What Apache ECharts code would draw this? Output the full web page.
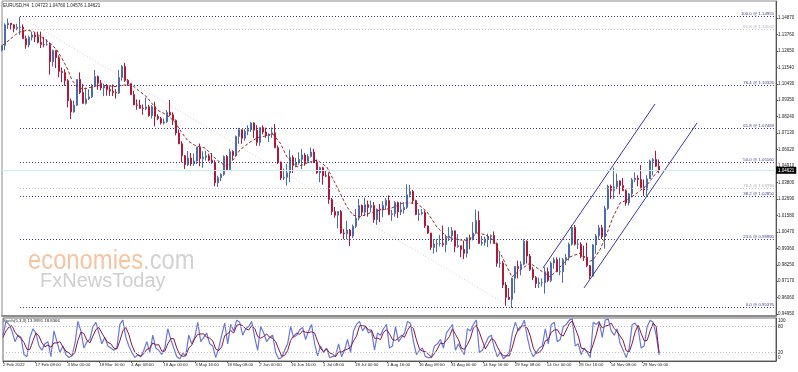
<!DOCTYPE html>
<html><head><meta charset="utf-8">
<script src="https://cdn.jsdelivr.net/npm/echarts/dist/echarts.min.js"></script>
<style>html,body{margin:0;padding:0;background:#fff}#c{width:798px;height:372px}</style>
</head><body><div id="c"></div>
<script>
// ---------- data ----------
const symbolName = 'EURUSD,H4';
const lastBar = [1.04723, 1.04760, 1.04576, 1.04621]; // O H L C of last H4 bar
// daily [open, high, low, close], trading days from 2 Feb 2022
const dailyOHLC = [
[1.1270,1.1306,1.1263,1.1302],[1.1302,1.1451,1.1270,1.1440],[1.1440,1.1483,1.1413,1.1452],
[1.1452,1.1453,1.1409,1.1441],[1.1441,1.1446,1.1390,1.1416],[1.1416,1.1448,1.1404,1.1423],[1.1423,1.1495,1.1373,1.1426],[1.1426,1.1444,1.1348,1.1348],
[1.1348,1.1369,1.1280,1.1306],[1.1306,1.1369,1.1290,1.1357],[1.1357,1.1395,1.1336,1.1373],[1.1373,1.1389,1.1325,1.1361],[1.1361,1.1395,1.1316,1.1323],
[1.1323,1.1395,1.1285,1.1309],[1.1309,1.1360,1.1290,1.1308],[1.1308,1.1344,1.1300,1.1308],[1.1308,1.1322,1.1106,1.1193],[1.1193,1.1274,1.1160,1.1268],
[1.1268,1.1270,1.1150,1.1220],[1.1220,1.1236,1.1088,1.1127],[1.1127,1.1154,1.1055,1.1120],[1.1120,1.1142,1.1030,1.1065],[1.1065,1.1075,1.0885,1.0930],
[1.0930,1.0945,1.0806,1.0855],[1.0855,1.0930,1.0850,1.0900],[1.0900,1.1075,1.0896,1.1074],[1.1074,1.1121,1.0975,1.0985],[1.0985,1.1044,1.0910,1.0912],
[1.0912,1.1018,1.0905,1.0942],[1.0942,1.1007,1.0935,1.0956],[1.0956,1.1043,1.0948,1.1031],[1.1031,1.1137,1.1021,1.1093],[1.1093,1.1100,1.1004,1.1048],
[1.1048,1.1070,1.1000,1.1016],[1.1016,1.1046,1.0961,1.1030],[1.1030,1.1043,1.0964,1.1005],[1.1005,1.1025,1.0962,1.0995],[1.0995,1.1040,1.0962,1.0985],
[1.0985,1.1009,1.0945,1.0982],[1.0982,1.1137,1.0975,1.1087],[1.1087,1.1170,1.1065,1.1160],[1.1160,1.1185,1.1056,1.1067],[1.1067,1.1076,1.1030,1.1045],
[1.1045,1.1048,1.0968,1.0972],[1.0972,1.0998,1.0901,1.0902],[1.0902,1.0939,1.0870,1.0900],[1.0900,1.0937,1.0874,1.0880],[1.0880,1.0905,1.0836,1.0877],
[1.0877,1.0952,1.0865,1.0889],[1.0889,1.0903,1.0822,1.0830],[1.0830,1.0901,1.0810,1.0890],[1.0890,1.0923,1.0758,1.0825],[1.0825,1.0838,1.0800,1.0810],
[1.0810,1.0822,1.0770,1.0780],[1.0780,1.0810,1.0770,1.0788],[1.0788,1.0868,1.0780,1.0852],[1.0852,1.0936,1.0825,1.0835],[1.0835,1.0852,1.0767,1.0797],
[1.0797,1.0805,1.0697,1.0713],[1.0713,1.0737,1.0638,1.0640],[1.0640,1.0658,1.0515,1.0560],[1.0560,1.0565,1.0471,1.0500],[1.0500,1.0592,1.0490,1.0545],
[1.0545,1.0578,1.0490,1.0505],[1.0505,1.0576,1.0492,1.0524],[1.0524,1.0620,1.0505,1.0618],[1.0618,1.0642,1.0490,1.0540],[1.0540,1.0590,1.0480,1.0550],
[1.0550,1.0594,1.0528,1.0560],[1.0560,1.0574,1.0522,1.0530],[1.0530,1.0578,1.0505,1.0515],[1.0515,1.0530,1.0354,1.0378],[1.0378,1.0425,1.0350,1.0412],
[1.0412,1.0442,1.0389,1.0435],[1.0435,1.0562,1.0425,1.0555],[1.0555,1.0565,1.0460,1.0465],[1.0465,1.0606,1.0460,1.0588],[1.0588,1.0597,1.0532,1.0562],
[1.0562,1.0696,1.0557,1.0690],[1.0690,1.0748,1.0640,1.0735],[1.0735,1.0737,1.0640,1.0678],[1.0678,1.0738,1.0660,1.0725],[1.0725,1.0765,1.0698,1.0735],
[1.0735,1.0787,1.0720,1.0780],[1.0780,1.0785,1.0680,1.0732],[1.0732,1.0765,1.0627,1.0650],[1.0650,1.0750,1.0627,1.0750],[1.0750,1.0765,1.0705,1.0720],
[1.0720,1.0749,1.0680,1.0695],[1.0695,1.0710,1.0653,1.0705],[1.0705,1.0750,1.0680,1.0715],[1.0715,1.0774,1.0610,1.0615],[1.0615,1.0630,1.0505,1.0518],
[1.0518,1.0520,1.0397,1.0410],[1.0410,1.0474,1.0397,1.0415],[1.0415,1.0506,1.0359,1.0445],[1.0445,1.0601,1.0382,1.0550],[1.0550,1.0564,1.0444,1.0495],
[1.0495,1.0546,1.0482,1.0512],[1.0512,1.0583,1.0500,1.0535],[1.0535,1.0605,1.0470,1.0565],[1.0565,1.0578,1.0492,1.0522],[1.0522,1.0571,1.0512,1.0555],
[1.0555,1.0615,1.0548,1.0585],[1.0585,1.0606,1.0510,1.0518],[1.0518,1.0533,1.0440,1.0444],[1.0444,1.0487,1.0382,1.0480],[1.0480,1.0486,1.0365,1.0425],
[1.0425,1.0463,1.0416,1.0423],[1.0423,1.0448,1.0236,1.0265],[1.0265,1.0276,1.0162,1.0184],[1.0184,1.0215,1.0143,1.0160],[1.0160,1.0186,1.0072,1.0185],
[1.0185,1.0195,1.0035,1.0040],[1.0040,1.0068,0.9998,1.0035],[1.0035,1.0122,0.9998,1.0060],[1.0060,1.0067,0.9952,1.0020],[1.0020,1.0097,1.0006,1.0085],
[1.0085,1.0201,1.0073,1.0140],[1.0140,1.0269,1.0124,1.0225],[1.0225,1.0232,1.0155,1.0180],[1.0180,1.0278,1.0154,1.0230],[1.0230,1.0258,1.0150,1.0212],
[1.0212,1.0258,1.0180,1.0225],[1.0225,1.0248,1.0110,1.0130],[1.0130,1.0205,1.0095,1.0200],[1.0200,1.0235,1.0113,1.0195],[1.0195,1.0255,1.0146,1.0225],
[1.0225,1.0275,1.0195,1.0260],[1.0260,1.0294,1.0160,1.0165],[1.0165,1.0196,1.0122,1.0170],[1.0170,1.0254,1.0150,1.0245],[1.0245,1.0252,1.0141,1.0182],
[1.0182,1.0250,1.0160,1.0196],[1.0196,1.0248,1.0170,1.0212],[1.0212,1.0368,1.0202,1.0297],[1.0297,1.0364,1.0280,1.0320],[1.0320,1.0330,1.0236,1.0258],
[1.0258,1.0264,1.0160,1.0165],[1.0165,1.0202,1.0122,1.0170],[1.0170,1.0202,1.0160,1.0178],[1.0178,1.0192,1.0074,1.0088],[1.0088,1.0090,1.0033,1.0040],
[1.0040,1.0040,0.9926,0.9943],[0.9943,0.9999,0.9901,0.9966],[0.9966,0.9999,0.9911,0.9968],[0.9968,1.0028,0.9949,0.9970],[0.9970,1.0090,0.9947,0.9962],
[0.9962,1.0030,0.9910,1.0010],[1.0010,1.0080,0.9986,1.0020],[1.0020,1.0080,0.9980,1.0055],[1.0055,1.0055,0.9911,0.9950],[0.9950,1.0033,0.9940,0.9955],
[0.9955,0.9955,0.9877,0.9930],[0.9930,0.9989,0.9864,0.9903],[0.9903,1.0011,0.9875,1.0008],[1.0008,1.0030,0.9930,1.0000],[1.0000,1.0113,0.9990,1.0040],
[1.0040,1.0198,1.0036,1.0125],[1.0125,1.0187,0.9966,0.9970],[0.9970,1.0020,0.9955,0.9977],[0.9977,1.0016,0.9956,0.9998],[0.9998,1.0036,0.9945,1.0016],
[1.0016,1.0030,0.9967,1.0024],[1.0024,1.0050,0.9970,0.9970],[0.9970,0.9976,0.9813,0.9836],[0.9836,0.9908,0.9807,0.9838],[0.9838,0.9852,0.9670,0.9690],
[0.9690,0.9710,0.9550,0.9607],[0.9607,0.9670,0.9590,0.9593],[0.9593,0.9740,0.9536,0.9735],[0.9735,0.9815,0.9635,0.9815],[0.9815,0.9853,0.9735,0.9800],
[0.9800,0.9850,0.9755,0.9830],[0.9830,0.9999,0.9823,0.9985],[0.9985,0.9990,0.9835,0.9885],[0.9885,0.9899,0.9785,0.9794],[0.9794,0.9810,0.9723,0.9740],
[0.9740,0.9750,0.9670,0.9700],[0.9700,0.9740,0.9670,0.9705],[0.9705,0.9735,0.9680,0.9705],[0.9705,0.9810,0.9632,0.9780],[0.9780,0.9808,0.9710,0.9720],
[0.9720,0.9850,0.9710,0.9838],[0.9838,0.9876,0.9800,0.9860],[0.9860,0.9875,0.9777,0.9779],[0.9779,0.9874,0.9755,0.9780],[0.9780,0.9872,0.9705,0.9860],
[0.9860,0.9900,0.9824,0.9875],[0.9875,0.9975,0.9855,0.9965],[0.9965,1.0093,0.9955,1.0078],[1.0078,1.0094,0.9955,0.9965],[0.9965,0.9999,0.9932,0.9965],
[0.9965,0.9978,0.9870,0.9882],[0.9882,0.9955,0.9852,0.9877],[0.9877,0.9975,0.9810,0.9820],[0.9820,0.9825,0.9730,0.9750],[0.9750,0.9965,0.9745,0.9960],
[0.9960,1.0033,0.9900,1.0020],[1.0020,1.0095,0.9994,1.0075],[1.0075,1.0094,1.0000,1.0014],[1.0014,1.0223,0.9935,1.0205],[1.0205,1.0365,1.0195,1.0355],
[1.0355,1.0365,1.0270,1.0325],[1.0325,1.0481,1.0270,1.0350],[1.0350,1.0440,1.0335,1.0390],[1.0390,1.0395,1.0300,1.0360],[1.0360,1.0410,1.0325,1.0325],
[1.0325,1.0334,1.0223,1.0242],[1.0242,1.0310,1.0226,1.0303],[1.0303,1.0410,1.0280,1.0398],[1.0398,1.0448,1.0382,1.0408],[1.0408,1.0429,1.0355,1.0400],
[1.0400,1.0497,1.0340,1.0345],[1.0345,1.0400,1.0290,1.0330],[1.0330,1.0429,1.0290,1.0405],[1.0405,1.0533,1.0405,1.0525],[1.0525,1.0545,1.0428,1.0535],
[1.0535,1.0594,1.0485,1.0490],[1.0490,1.0535,1.0443,1.04621]
];
// moving average: day position and value
const maDays = [0.8,3,5,6.5,9,11,13.5,16.5,18.8,20.8,22.5,23.8,25.5,27.5,29.2,31,33.2,36.5,38.5,40.5,43.8,46,48.8,52.2,55.5,58,60.5,62.5,64.8,68.2,72.2,75.5,77.5,79.8,83.2,85.5,88.2,90.8,93.2,95.5,98.8,102.2,105.5,108.8,109.8,113.2,115.5,117.5,119.8,123.2,126.5,130,134.2,138.8,142.2,145.5,148.8,153.2,156,158.8,161.5,164.2,167.2,170.5,173.2,176.5,179.8,183.2,186.5,189.8,193.2,195.8,197.5,199.8,202.2,204.2,206.5,208.8,212.2,215.5,218.8,219.5];
const maValues = [1.1305,1.1340,1.1375,1.1393,1.1405,1.1395,1.1360,1.1319,1.1272,1.1204,1.1137,1.1070,1.1023,1.1010,1.1016,1.1025,1.1036,1.1029,1.1025,1.1036,1.1036,1.1000,1.0955,1.0868,1.0834,1.0790,1.0713,1.0660,1.0630,1.0612,1.0531,1.0484,1.0531,1.0599,1.0652,1.0679,1.0693,1.0706,1.0646,1.0552,1.0484,1.0511,1.0531,1.0484,1.0444,1.0309,1.0215,1.0161,1.0148,1.0175,1.0195,1.0205,1.0242,1.0242,1.0181,1.0080,1.0013,0.9993,0.9990,1.0040,1.0030,0.9993,0.9879,0.9744,0.9791,0.9838,0.9791,0.9744,0.9811,0.9879,0.9905,0.9845,0.9858,0.9926,1.0040,1.0148,1.0242,1.0262,1.0309,1.0363,1.0451,1.0464];
// stochastic (5,3,3), one value per trading day
const stochName = 'Stoch(5,3,3)';
const stochK = [60,92,85, 70,45,60,55,15, 10,55,75,65,35, 25,40,45,10,70, 45,20,35,15,8, 12,40,92,70,30, 45,50,80,90,65, 40,55,35,30,25, 30,85,95,55,35, 20,8,15,10,25, 45,20,60,30,25, 15,30,75,50,30, 10,5,18,12,60, 40,55,90,45,55, 65,40,35,8,30, 60,88,40,85,70, 95,90,60,75,80, 92,55,25,80,65, 45,55,60,20,5, 8,25,40,80,55, 60,72,78,50,70, 85,40,12,35,20, 30,8,10,12,40, 10,25,50,20,70, 85,92,70,80,65, 70,25,65,60,75, 85,30,35,80,45, 55,65,92,88,45, 15,25,30,10,8, 8,35,40,50,30, 65,75,85,25,40, 25,15,75,70,85, 95,20,25,40,55, 60,30,10,20,5, 12,20,65,90,70, 80,95,55,25,10, 20,30,35,75,40, 85,90,45,50,80, 85,95,98,35,40, 15,30,20,8,90, 85,92,55,95,98, 70,60,75,40,25, 8,30,85,88,75, 30,35,80,95,90, 60,13.9991];
const stochD = [55,70,79, 82,67,58,53,43, 27,27,47,65,58, 42,33,37,32,42, 42,45,33,23,19, 12,20,48,67,64, 48,42,58,73,78, 65,53,43,40,30, 28,47,70,78,62, 37,21,14,11,17, 27,30,42,37,38, 23,23,40,52,52, 30,15,11,12,30, 37,52,62,63,63, 55,53,47,28,24, 33,59,63,71,65, 83,85,82,75,72, 82,76,57,53,57, 63,55,53,45,28, 11,13,24,48,58, 65,62,70,67,66, 68,65,46,29,22, 28,19,16,10,21, 21,25,28,32,47, 58,82,82,81,72, 72,53,53,50,67, 73,63,50,48,53, 60,55,71,82,75, 49,28,23,22,16, 9,17,28,42,40, 48,57,75,62,50, 30,27,38,53,77, 83,67,47,28,40, 52,48,33,20,12, 12,12,32,58,75, 80,82,77,58,30, 18,20,28,47,50, 67,72,73,62,58, 72,87,93,76,58, 30,28,22,19,39, 61,89,77,81,83, 88,76,68,58,47, 24,21,41,68,83, 64,47,48,70,88, 80,18.8366];
const stochLevels = [20, 80];
const stochTicks = [0, 20, 80, 100];
// price axis tick labels
const yTicks = [1.14870,1.13760,1.12650,1.11540,1.10430,1.09350,1.08240,1.07130,1.06020,1.04910,1.03800,1.02690,1.01580,1.00470,0.99360,0.98250,0.97170,0.96060,0.94950];
// time axis labels and their H4 bar index
const xTickBars = [3,68,132,196,260,324,388,452,516,580,644,708,772,836,900,964,1028,1092,1156,1220,1284];
const xTickLabels = ['2 Feb 2022','17 Feb 08:00','4 Mar 00:00','18 Mar 16:00','4 Apr 08:00','19 Apr 00:00','3 May 16:00','18 May 08:00','2 Jun 00:00','16 Jun 16:00','1 Jul 08:00','18 Jul 00:00','1 Aug 16:00','16 Aug 08:00','31 Aug 00:00','14 Sep 16:00','29 Sep 08:00','14 Oct 00:00','28 Oct 16:00','14 Nov 08:00','29 Nov 00:00'];
// Fibonacci retracement
const fibLevels = ['100.0','76.4','61.8','50.0','38.2','23.6','0.0'];
const fibPrices = [1.14955,1.10326,1.07469,1.05160,1.02850,0.99990,0.95376];
const grayFibLevels = ['61.8','76.4'];
const grayFibPrices = [1.14102,1.03390];
const fibStartDay = 6.5, fibEndDay = 170.5;
// channel lines [day, price]
const channelUpper = [[180.83,0.98046],[218.17,1.09082]];
const channelLower = [[194.5,0.96700],[232.17,1.07803]];

// ---------- layout constants ----------
const X_MIN = 0.5, X_MAX = 258.5;
const Y_MIN = 0.948154, Y_MAX = 1.160131;
const FONT = 'Liberation Sans';
const NAVY = '#3a3a96', GRAY = '#adadad';

const xTickDays = xTickBars.map(b => b / 6);
const xLabelFor = v => {
  let best = 0;
  xTickDays.forEach((d, i) => { if (Math.abs(d - v) < Math.abs(xTickDays[best] - v)) best = i; });
  return xTickLabels[best];
};

const candleData = dailyOHLC.map((r, i) => [i + 0.5, r[0], r[3], r[2], r[1]]);
const maData = maDays.map((d, i) => [d, maValues[i]]);
const kData = stochK.map((v, i) => [i + 0.5, v]);
const dData = stochD.map((v, i) => [i + 0.5, v]);

const fibMark = [];
fibLevels.forEach((lv, i) => fibMark.push([
  { coord: [fibStartDay, fibPrices[i]], lineStyle: { color: NAVY }, label: { color: NAVY, formatter: lv + ' @ ' + fibPrices[i].toFixed(5) } },
  { coord: [X_MAX, fibPrices[i]] }
]));
grayFibLevels.forEach((lv, i) => fibMark.push([
  { coord: [fibStartDay, grayFibPrices[i]], lineStyle: { color: '#c4c4c4' }, label: { color: GRAY, formatter: lv + ' @ ' + grayFibPrices[i].toFixed(5) } },
  { coord: [X_MAX, grayFibPrices[i]] }
]));

const chart = echarts.init(document.getElementById('c'), null, { renderer: 'canvas' });
chart.setOption({
  animation: false,
  backgroundColor: '#ffffff',
  textStyle: { fontFamily: FONT },
  grid: [
    { left: 2, right: 22, top: 1, height: 315, show: true, borderColor: '#8a8a8a', borderWidth: 1 },
    { left: 2, right: 22, top: 318, height: 43, show: true, borderColor: '#6a6a6a', borderWidth: 1 }
  ],
  xAxis: [
    { gridIndex: 0, type: 'value', min: X_MIN, max: X_MAX,
      axisLine: { show: true, onZero: false, lineStyle: { color: '#8c8c8c', width: 2 } },
      axisTick: { show: false }, axisLabel: { show: false }, splitLine: { show: false } },
    { gridIndex: 1, type: 'value', min: X_MIN, max: X_MAX,
      axisLine: { show: true, onZero: false, lineStyle: { color: '#555', width: 1 } },
      axisTick: { show: true, customValues: xTickDays, length: 2, lineStyle: { color: '#555' } },
      axisLabel: { customValues: xTickDays, formatter: xLabelFor, fontSize: 4.3, color: '#222', align: 'left', margin: 2, fontFamily: FONT },
      splitLine: { show: false } }
  ],
  yAxis: [
    { gridIndex: 0, type: 'value', position: 'right', min: Y_MIN, max: Y_MAX,
      axisLine: { show: true, onZero: false, lineStyle: { color: '#555' } },
      axisTick: { show: true, customValues: yTicks, length: 2, lineStyle: { color: '#555' } },
      axisLabel: { customValues: yTicks, formatter: v => v.toFixed(5), fontSize: 4.5, color: '#222', margin: 2, fontFamily: FONT },
      splitLine: { show: false } },
    { gridIndex: 1, type: 'value', position: 'right', min: 0, max: 100,
      axisLine: { show: true, onZero: false, lineStyle: { color: '#555' } },
      axisTick: { show: false },
      axisLabel: { customValues: stochTicks, fontSize: 4.5, color: '#222', margin: 2, fontFamily: FONT,
        formatter: v => v === 100 ? '{t|100}' : (v === 0 ? '{b|0}' : String(v)),
        rich: { t: { padding: [6, 0, 0, 0], fontSize: 4.5, color: '#222', fontFamily: FONT },
                b: { padding: [0, 0, 6, 0], fontSize: 4.5, color: '#222', fontFamily: FONT } } },
      splitLine: { show: false } }
  ],
  series: [
    { type: 'line', xAxisIndex: 0, yAxisIndex: 0, data: [[fibStartDay, fibPrices[0]], [fibEndDay, fibPrices[6]]],
      symbol: 'none', silent: true, z: 1,
      lineStyle: { color: '#e2c9c9', width: 1, type: [1, 2] },
      markLine: { silent: true, symbol: 'none', animation: false, precision: 5, data: fibMark,
        lineStyle: { type: [1, 2], width: 1 },
        label: { position: 'insideEndTop', distance: [2, 0.5], fontSize: 4.3, fontFamily: FONT } } },
    { type: 'candlestick', xAxisIndex: 0, yAxisIndex: 0, data: candleData, barWidth: 1.6, z: 3,
      itemStyle: { color: '#7f9cd2', color0: '#ef3a3a', borderColor: '#4d6cb0', borderColor0: '#b01838', borderWidth: 1 },
      markLine: { silent: true, symbol: 'none', animation: false, precision: 5,
        data: [{ yAxis: lastBar[3] }],
        lineStyle: { color: '#c9eef2', type: 'solid', width: 1 },
        label: { position: 'end', distance: 0, formatter: lastBar[3].toFixed(5), backgroundColor: '#000', color: '#fff', fontSize: 4.5, padding: [1, 2], fontFamily: FONT } } },
    { type: 'line', xAxisIndex: 0, yAxisIndex: 0, data: maData, symbol: 'none', z: 4, silent: true,
      lineStyle: { color: '#9a2a22', width: 1, type: [3, 2] } },
    { type: 'line', xAxisIndex: 0, yAxisIndex: 0, data: channelUpper, symbol: 'none', z: 4, silent: true,
      lineStyle: { color: '#3838a8', width: 1 } },
    { type: 'line', xAxisIndex: 0, yAxisIndex: 0, data: channelLower, symbol: 'none', z: 4, silent: true,
      lineStyle: { color: '#3838a8', width: 1 } },
    { type: 'line', xAxisIndex: 1, yAxisIndex: 1, data: kData, symbol: 'none', silent: true,
      lineStyle: { color: '#6a78dc', width: 1.2 } },
    { type: 'line', xAxisIndex: 1, yAxisIndex: 1, data: dData, symbol: 'none', silent: true,
      lineStyle: { color: '#8a1840', width: 1 },
      markLine: { silent: true, symbol: 'none', animation: false,
        data: stochLevels.map(v => ({ yAxis: v })),
        lineStyle: { color: '#bdbdbd', type: [1, 2], width: 1 }, label: { show: false } } }
  ],
  graphic: [
    { type: 'text', left: 3, top: 3, silent: true,
      style: { text: symbolName + '  ' + lastBar.map(v => v.toFixed(5)).join(' '), fontSize: 4.5, fill: '#222', fontFamily: FONT } },
    { type: 'text', left: 3, top: 319, silent: true,
      style: { text: stochName + ' ' + stochK[stochK.length - 1].toFixed(4) + ' ' + stochD[stochD.length - 1].toFixed(4), fontSize: 4.3, fill: '#222', fontFamily: FONT } },
    { type: 'text', x: 28, y: 261, scaleX: 0.85, silent: true, z: 0,
      style: { text: '{o|economies}{g|.com}', verticalAlign: 'middle', fontFamily: FONT,
        rich: { o: { fontSize: 28, fill: '#f6c4a0', fontFamily: FONT }, g: { fontSize: 28, fill: '#d3d3d3', fontFamily: FONT } } } },
    { type: 'text', x: 40, y: 281, silent: true, z: 0,
      style: { text: 'FxNewsToday', fontSize: 20, fill: '#cfcfcf', verticalAlign: 'middle', fontFamily: FONT } }
  ]
});
</script>
</body></html>
